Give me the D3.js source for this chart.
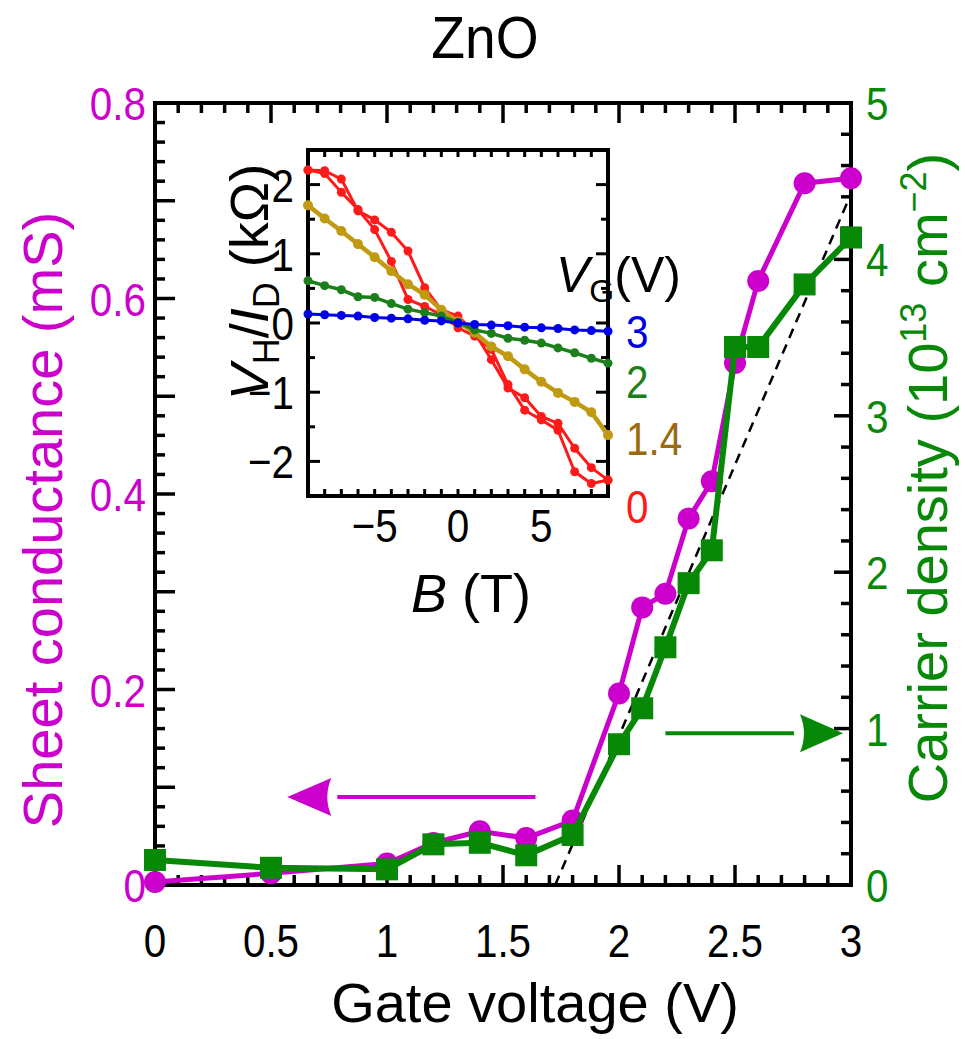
<!DOCTYPE html>
<html>
<head>
<meta charset="utf-8">
<script src="https://cdn.jsdelivr.net/npm/d3@7"></script>
<style>
  body { margin: 0; background: #fff; }
  svg text { font-family: "Liberation Sans", Arial, sans-serif; }
</style>
</head>
<body>
<svg id="chart" width="965" height="1039"></svg>
<script>
// ---------- Main chart data ----------
const gateVoltage = [0, 0.5, 1, 1.2, 1.4, 1.6, 1.8, 2.0, 2.1, 2.2, 2.3, 2.4, 2.5, 2.6, 2.8, 3.0];
const sheetConductance = [0.003, 0.012, 0.022, 0.043, 0.055, 0.048, 0.066, 0.196, 0.284, 0.298, 0.375, 0.413, 0.534, 0.618, 0.718, 0.723];
const carrierDensity = [0.16, 0.11, 0.10, 0.26, 0.27, 0.19, 0.32, 0.90, 1.13, 1.52, 1.93, 2.14, 3.44, 3.44, 3.84, 4.14];
const fitLine = [[1.725, 0], [3.0, 4.42]]; // dashed guide (gate V, carrier density)

const xTickLabels = ["0", "0.5", "1", "1.5", "2", "2.5", "3"];
const xTickValues = [0, 0.5, 1, 1.5, 2, 2.5, 3];
const leftTickValues = [0, 0.2, 0.4, 0.6, 0.8];
const leftTickLabels = ["0", "0.2", "0.4", "0.6", "0.8"];
const rightTickValues = [0, 1, 2, 3, 4, 5];
const rightTickLabels = ["0", "1", "2", "3", "4", "5"];

// ---------- Inset data (Hall resistance vs B) ----------
const fieldB = [-9, -8, -7, -6, -5, -4, -3, -2, -1, 0, 1, 2, 3, 4, 5, 6, 7, 8, 9];
const hallVG3 = [0.13, 0.12, 0.11, 0.10, 0.08, 0.07, 0.06, 0.04, 0.03, 0.0, -0.02, -0.03, -0.04, -0.06, -0.07, -0.08, -0.10, -0.11, -0.12];
const hallVG2 = [0.61, 0.54, 0.48, 0.38, 0.37, 0.28, 0.20, 0.15, 0.10, 0.01, -0.10, -0.15, -0.22, -0.25, -0.29, -0.36, -0.43, -0.51, -0.58];
const hallVG14 = [1.70, 1.51, 1.33, 1.14, 0.95, 0.75, 0.56, 0.41, 0.19, 0.02, -0.14, -0.34, -0.48, -0.67, -0.85, -1.01, -1.14, -1.29, -1.62];
const hallVG0Up = [2.21, 2.20, 2.08, 1.62, 1.49, 1.31, 1.04, 0.51, 0.19, 0.10, -0.14, -0.53, -0.94, -1.08, -1.35, -1.45, -1.81, -2.09, -2.27];
const hallVG0Down = [2.21, 2.16, 1.89, 1.64, 1.35, 0.89, 0.34, 0.24, 0.12, -0.07, -0.19, -0.38, -0.89, -1.26, -1.40, -1.55, -2.15, -2.32, -2.27];
const insetYTicks = [-2, -1, 0, 1, 2];
const insetYTickLabels = ["\u22122", "\u22121", "0", "1", "2"];
const insetXTicks = [-5, 0, 5];
const insetXTickLabels = ["\u22125", "0", "5"];
const vgLabels = ["3", "2", "1.4", "0"];

// ---------- Colours ----------
const MAGENTA = "#cc00cc";
const GREEN = "#078807";
const BLUE = "#0000e6";
const DGREEN = "#1b7f1b";
const GOLD = "#c09a12";
const GOLDTXT = "#9a6a10";
const RED = "#ff1a1a";

const svg = d3.select("#chart");

// condensed-looking text helper
const SX = 0.86;
function ctext(parent, xPos, yPos, str, opts) {
  const t = parent.append("text")
    .attr("transform", `translate(${xPos},${yPos}) scale(${opts.sx || SX},1)`)
    .attr("text-anchor", opts.anchor || "middle")
    .attr("font-size", opts.size).attr("fill", opts.fill || "#000").text(str);
  return t;
}

// ---------- Main scales ----------
const L = 155, R = 851, T = 103, B = 885;
const x = d3.scaleLinear().domain([0, 3]).range([L, R]);
const yL = d3.scaleLinear().domain([0, 0.8]).range([B, T]);
const yR = d3.scaleLinear().domain([0, 5]).range([B, T]);

const FS_TICK = 47;

const ax = svg.append("g").attr("stroke", "#000").attr("stroke-width", 3.5);
d3.range(0, 3.0001, 0.1).forEach((v, i) => {
  const major = i % 5 === 0;
  const len = major ? 20 : 10;
  ax.append("line").attr("x1", x(v)).attr("x2", x(v)).attr("y1", B).attr("y2", B - len);
  ax.append("line").attr("x1", x(v)).attr("x2", x(v)).attr("y1", T).attr("y2", T + len);
});
d3.range(0, 0.80001, 0.02).forEach((v, i) => {
  const major = i % 5 === 0;
  const len = major ? 20 : 10;
  ax.append("line").attr("x1", L).attr("x2", L + len).attr("y1", yL(v)).attr("y2", yL(v));
});
d3.range(0, 5.0001, 0.2).forEach((v, i) => {
  const major = i % 5 === 0;
  const len = major ? 17 : 10;
  ax.append("line").attr("x1", R).attr("x2", R - len).attr("y1", yR(v)).attr("y2", yR(v));
});
svg.append("rect").attr("x", L).attr("y", T).attr("width", R - L).attr("height", B - T)
  .attr("fill", "none").attr("stroke", "#000").attr("stroke-width", 4);

// tick labels
const gx = svg.append("g");
xTickValues.forEach((d, i) => ctext(gx, x(d), 957, xTickLabels[i], { size: FS_TICK }));
const gl = svg.append("g");
leftTickValues.forEach((d, i) => ctext(gl, 146, yL(d) + 17, leftTickLabels[i], { size: FS_TICK, anchor: "end", fill: MAGENTA }));
const gr = svg.append("g");
rightTickValues.forEach((d, i) => ctext(gr, 866, yR(d) + 17, rightTickLabels[i], { size: FS_TICK, anchor: "start", fill: GREEN }));

// titles
ctext(svg, 485, 58, "ZnO", { size: 60, sx: 0.92 });
svg.append("text").attr("x", 535).attr("y", 1022).attr("text-anchor", "middle")
  .attr("font-size", 56).attr("fill", "#000").text("Gate voltage (V)");
svg.append("text").attr("transform", "translate(62,520) rotate(-90)").attr("text-anchor", "middle")
  .attr("font-size", 56).attr("fill", MAGENTA).text("Sheet conductance (mS)");
const rt = svg.append("text").attr("transform", "translate(947,478) rotate(-90)").attr("text-anchor", "middle")
  .attr("font-size", 56).attr("fill", GREEN);
rt.append("tspan").text("Carrier density (10");
rt.append("tspan").attr("font-size", 36).attr("dy", -21).text("13");
rt.append("tspan").attr("dy", 21).text(" cm");
rt.append("tspan").attr("font-size", 36).attr("dy", -21).text("\u22122");
rt.append("tspan").attr("dy", 21).text(")");

// dashed guide
svg.append("path").datum(fitLine)
  .attr("d", d3.line().x(d => x(d[0])).y(d => yR(d[1])))
  .attr("stroke", "#000").attr("stroke-width", 2.5).attr("stroke-dasharray", "10,7").attr("fill", "none");

// arrows
function arrow(x0, xTip, xBack, yPix, color, dir) {
  svg.append("line").attr("x1", x0).attr("x2", xBack - dir * 6).attr("y1", yPix).attr("y2", yPix)
    .attr("stroke", color).attr("stroke-width", 4);
  const notch = xBack + dir * 8;
  svg.append("path")
    .attr("d", `M${xTip},${yPix} L${xBack},${yPix - 19} Q${notch},${yPix} ${xBack},${yPix + 19} Z`)
    .attr("fill", color);
}
arrow(x(1.64), x(0.57), x(0.76), yL(0.09), MAGENTA, -1);
arrow(x(2.2), x(2.966), x(2.78), yR(0.97), GREEN, 1);

// magenta series
const lineL = d3.line().x((d, i) => x(gateVoltage[i])).y(d => yL(d));
svg.append("path").datum(sheetConductance).attr("d", lineL)
  .attr("stroke", MAGENTA).attr("stroke-width", 5).attr("fill", "none");
svg.append("g").selectAll("circle").data(sheetConductance).join("circle")
  .attr("cx", (d, i) => x(gateVoltage[i])).attr("cy", d => yL(d)).attr("r", 11)
  .attr("fill", MAGENTA);

// green series
const lineR = d3.line().x((d, i) => x(gateVoltage[i])).y(d => yR(d));
svg.append("path").datum(carrierDensity).attr("d", lineR)
  .attr("stroke", GREEN).attr("stroke-width", 6).attr("fill", "none");
const S = 22;
svg.append("g").selectAll("rect").data(carrierDensity).join("rect")
  .attr("x", (d, i) => x(gateVoltage[i]) - S / 2).attr("y", d => yR(d) - S / 2)
  .attr("width", S).attr("height", S).attr("fill", GREEN);

// ---------- Inset ----------
const iL = 308, iR = 608, iT = 150, iB = 496;
const xi = d3.scaleLinear().domain([-9, 9]).range([iL, iR]);
const yi = d3.scaleLinear().domain([-2.5, 2.5]).range([iB, iT]);

svg.append("rect").attr("x", iL).attr("y", iT).attr("width", iR - iL).attr("height", iB - iT)
  .attr("fill", "#fff").attr("stroke", "none");
const ia = svg.append("g").attr("stroke", "#000").attr("stroke-width", 3);
d3.range(-8, 9, 1).forEach(v => {
  ia.append("line").attr("x1", xi(v)).attr("x2", xi(v)).attr("y1", iB).attr("y2", iB - 7);
  ia.append("line").attr("x1", xi(v)).attr("x2", xi(v)).attr("y1", iT).attr("y2", iT + 7);
});
d3.range(-2, 2.01, 0.5).forEach(v => {
  const major = Math.abs(v - Math.round(v)) < 1e-6;
  const len = major ? 12 : 7;
  ia.append("line").attr("x1", iL).attr("x2", iL + len).attr("y1", yi(v)).attr("y2", yi(v));
  ia.append("line").attr("x1", iR).attr("x2", iR - len).attr("y1", yi(v)).attr("y2", yi(v));
});
svg.append("rect").attr("x", iL).attr("y", iT).attr("width", iR - iL).attr("height", iB - iT)
  .attr("fill", "none").attr("stroke", "#000").attr("stroke-width", 4);

const giy = svg.append("g");
insetYTicks.forEach((d, i) => ctext(giy, 294, yi(d) + 17, insetYTickLabels[i], { size: FS_TICK, anchor: "end" }));
const gix = svg.append("g");
insetXTicks.forEach((d, i) => ctext(gix, xi(d), 542, insetXTickLabels[i], { size: FS_TICK }));

const bt = svg.append("text").attr("x", 471).attr("y", 612).attr("text-anchor", "middle")
  .attr("font-size", 54).attr("fill", "#000");
bt.append("tspan").attr("font-style", "italic").text("B");
bt.append("tspan").text(" (T)");

const yt = svg.append("text").attr("transform", "translate(268,282) rotate(-90)").attr("text-anchor", "middle")
  .attr("font-size", 54).attr("fill", "#000");
yt.append("tspan").attr("font-style", "italic").text("V");
yt.append("tspan").attr("font-size", 36).attr("dy", 11).text("H");
yt.append("tspan").attr("dy", -11).text("/");
yt.append("tspan").attr("font-style", "italic").text("I");
yt.append("tspan").attr("font-size", 36).attr("dy", 11).text("D");
yt.append("tspan").attr("dy", -11).text(" (k\u03A9)");

const lineI = d3.line().x((d, i) => xi(fieldB[i])).y(d => yi(d));
function insetSeries(vals, color, lw, r) {
  svg.append("path").datum(vals).attr("d", lineI).attr("stroke", color).attr("stroke-width", lw).attr("fill", "none");
  svg.append("g").selectAll("circle").data(vals).join("circle")
    .attr("cx", (d, i) => xi(fieldB[i])).attr("cy", d => yi(d)).attr("r", r).attr("fill", color);
}
insetSeries(hallVG0Up, RED, 3, 4.5);
insetSeries(hallVG0Down, RED, 3, 4.5);
insetSeries(hallVG14, GOLD, 4.5, 5);
insetSeries(hallVG2, DGREEN, 3.5, 4.5);
insetSeries(hallVG3, BLUE, 3, 4.5);

// VG legend
const vg = svg.append("text").attr("x", 556).attr("y", 292).attr("font-size", 50).attr("fill", "#000");
vg.append("tspan").attr("font-style", "italic").text("V");
vg.append("tspan").attr("font-size", 32).attr("dy", 10).text("G");
vg.append("tspan").attr("dy", -10).text("(V)");
const vgColors = [BLUE, DGREEN, GOLDTXT, RED];
const vgY = [348, 398, 455, 523];
const gvg = svg.append("g");
vgLabels.forEach((d, i) => ctext(gvg, 626, vgY[i], d, { size: FS_TICK, anchor: "start", fill: vgColors[i] }));
</script>
</body>
</html>
